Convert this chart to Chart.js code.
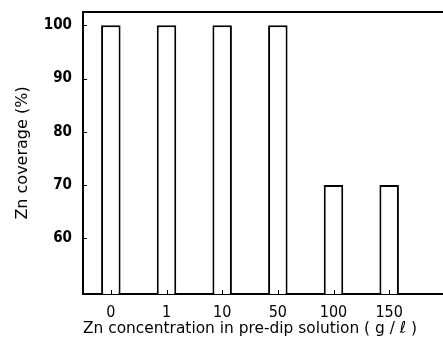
<!DOCTYPE html>
<html>
<head>
<meta charset="utf-8">
<script src="https://cdn.jsdelivr.net/npm/chart.js@4.4.0/dist/chart.umd.min.js"></script>
<style>
  html, body { margin: 0; padding: 0; background: #fff; overflow: hidden; }
  #wrap { width: 443px; height: 345px; }
</style>
</head>
<body>
<div id="wrap"><canvas id="chart_root"></canvas></div>
<script>
// data
const categories = ['0', '1', '10', '50', '100', '150'];
const coverage = [100, 100, 100, 100, 70, 70];
const yTicks = [60, 70, 80, 90, 100];

// top frame line, axes running on to the right edge, inward tick marks
const framePlugin = {
  id: 'frame',
  afterDraw(chart) {
    const { ctx, chartArea } = chart;
    const x = chart.scales.x, y = chart.scales.y;
    ctx.save();
    ctx.strokeStyle = '#000';
    ctx.lineWidth = 2;
    ctx.beginPath();
    ctx.moveTo(chartArea.left - 1, chartArea.top);
    ctx.lineTo(chart.width, chartArea.top);
    ctx.moveTo(chartArea.right - 1, chartArea.bottom);
    ctx.lineTo(chart.width, chartArea.bottom);
    ctx.stroke();
    ctx.lineWidth = 1;
    ctx.beginPath();
    x.ticks.forEach((t, i) => {
      const px = Math.round(x.getPixelForTick(i)) + 0.5;
      ctx.moveTo(px, chartArea.bottom);
      ctx.lineTo(px, chartArea.bottom - 4);
    });
    yTicks.forEach((v) => {
      const py = Math.round(y.getPixelForValue(v)) + 0.5;
      ctx.moveTo(chartArea.left, py);
      ctx.lineTo(chartArea.left + 4, py);
    });
    ctx.stroke();
    ctx.restore();
  }
};

const ctx = document.getElementById('chart_root');

new Chart(ctx, {
  type: 'bar',
  data: {
    labels: categories,
    datasets: [
      {
        data: coverage,
        backgroundColor: '#fff',
        borderColor: '#000',
        borderWidth: 2,
        barPercentage: 0.35,
        categoryPercentage: 1
      }
    ]
  },
  options: {
    responsive: true,
    maintainAspectRatio: false,
    animation: false,
    layout: { padding: { top: 12, left: 0, right: 26, bottom: 0 } },
    plugins: { legend: { display: false }, tooltip: { enabled: false } },
    scales: {
      x: {
        grid: { display: false },
        border: { display: true, color: '#000', width: 2 },
        ticks: { color: '#000', font: { family: 'DejaVu Sans Condensed', size: 16 }, padding: 1, maxRotation: 0 },
        title: {
          display: true,
          text: 'Zn concentration in pre-dip solution ( g / ℓ )',
          color: '#000',
          font: { family: 'DejaVu Sans', size: 16.5 },
          padding: { top: 4, bottom: 6 }
        },
        afterFit(scale) { scale.height = 51; }
      },
      y: {
        min: 49.5,
        max: 102.5,
        grid: { display: false },
        border: { display: true, color: '#000', width: 2 },
        afterBuildTicks(scale) { scale.ticks = yTicks.map((v) => ({ value: v })); },
        ticks: { color: '#000', font: { family: 'DejaVu Sans Condensed', size: 15, weight: 'bold' }, padding: 3 },
        title: {
          display: true,
          text: 'Zn coverage (%)',
          color: '#000',
          font: { family: 'DejaVu Sans', size: 16 },
          padding: { top: 13, bottom: 0 }
        },
        afterFit(scale) { scale.width = 83; }
      }
    }
  },
  plugins: [framePlugin]
});
</script>
</body>
</html>
